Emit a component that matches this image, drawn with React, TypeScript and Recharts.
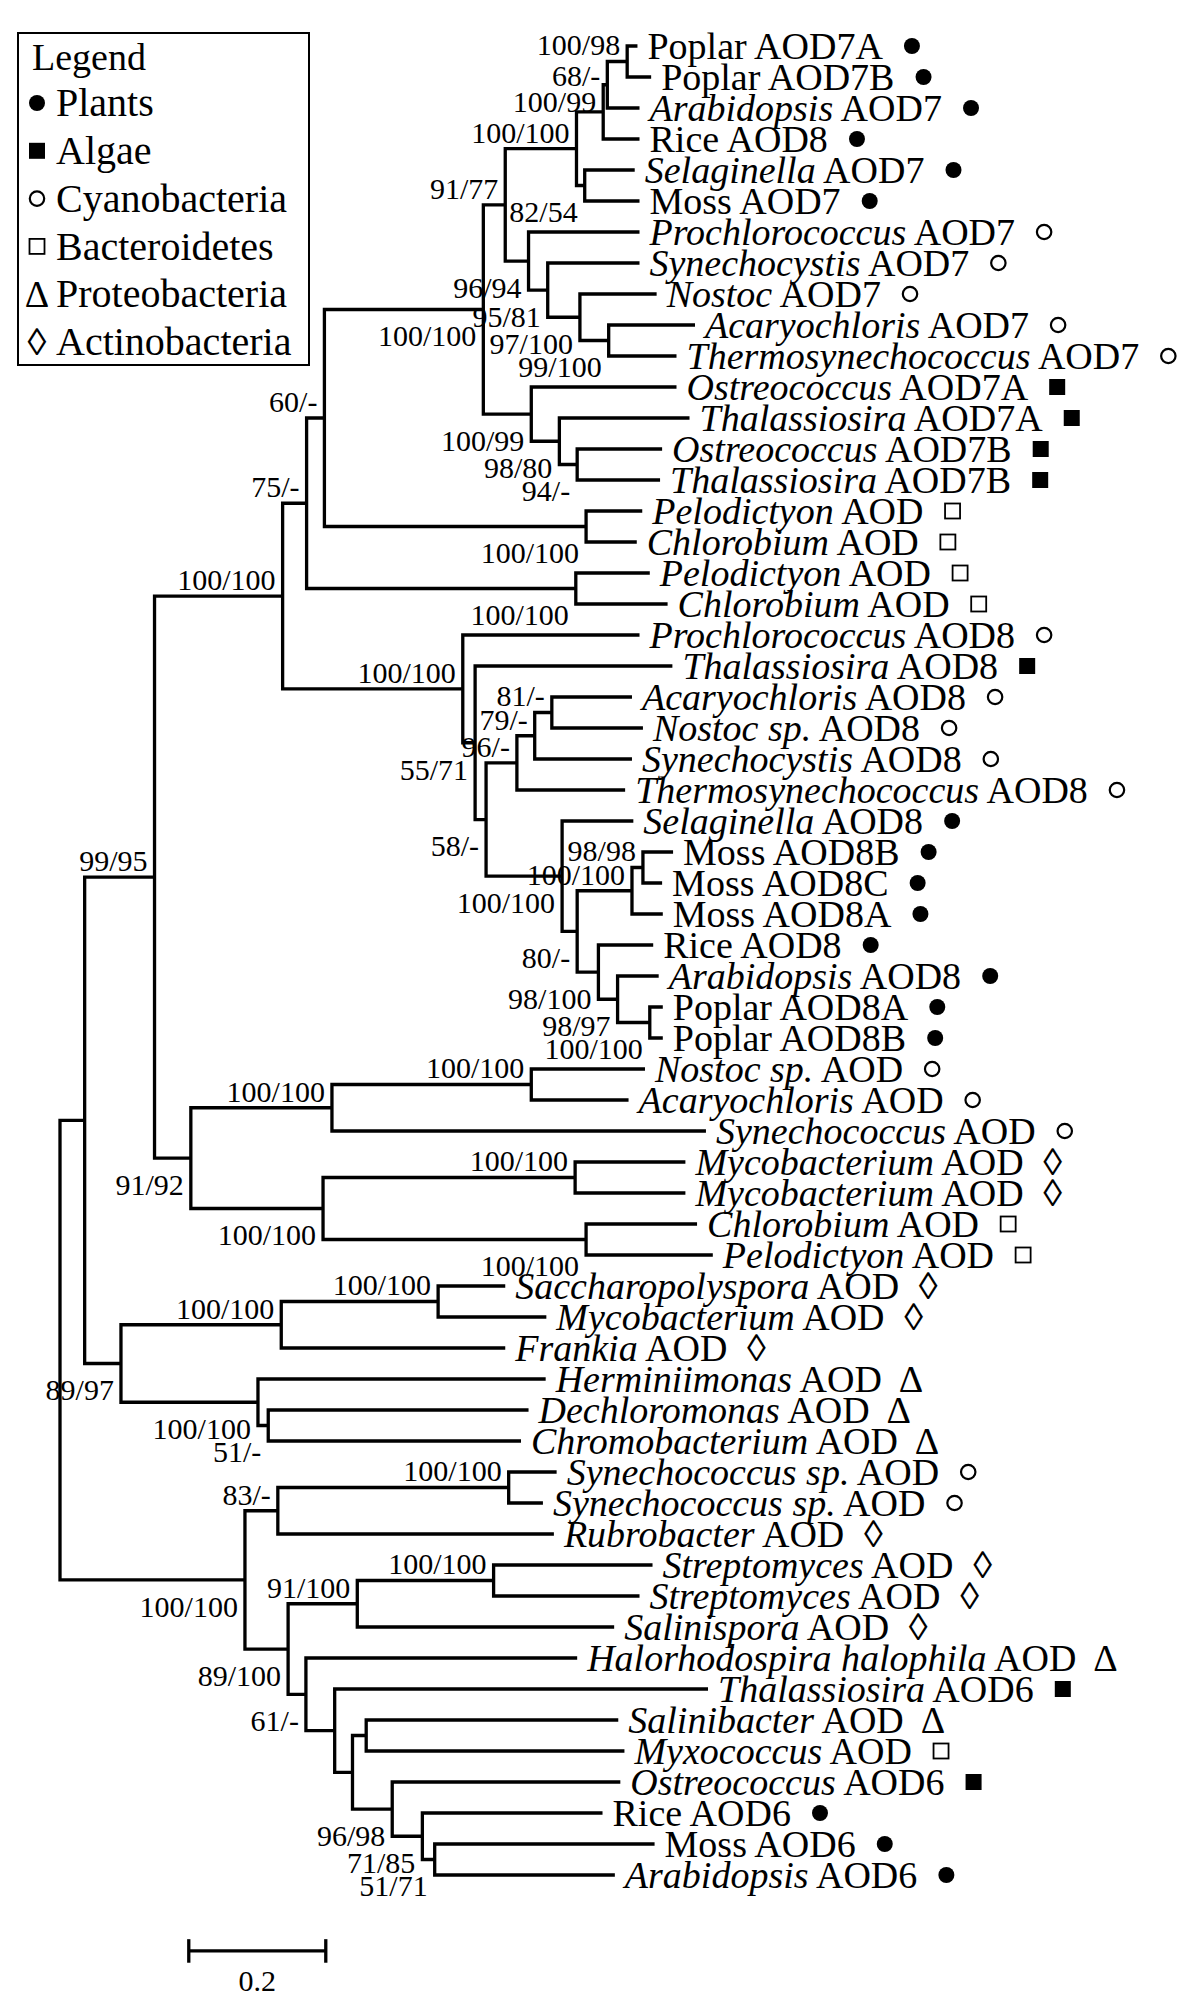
import React from 'react';
import { ScatterChart, Scatter, XAxis, YAxis, Legend } from 'recharts';

// ---------- DATA ----------
// leaves: [italic part, roman part, group, parent node, branch length]
const leaves: [string, string, string, string, number][] = [
  ['', 'Poplar AOD7A', 'P', 'pab', 0.015],
  ['', 'Poplar AOD7B', 'P', 'pab', 0.035],
  ['Arabidopsis', ' AOD7', 'P', 'n608', 0.047],
  ['', 'Rice AOD8', 'P', 'n604', 0.053],
  ['Selaginella', ' AOD7', 'P', 'sm', 0.073],
  ['', 'Moss AOD7', 'P', 'sm', 0.080],
  ['Prochlorococcus', ' AOD7', 'C', 'n529', 0.162],
  ['Synechocystis', ' AOD7', 'C', 'n548', 0.134],
  ['Nostoc', ' AOD7', 'C', 'n580', 0.112],
  ['Acaryochloris', ' AOD7', 'C', 'n609', 0.126],
  ['Thermosynechococcus', ' AOD7', 'C', 'n609', 0.099],
  ['Ostreococcus', ' AOD7A', 'A', 'alg', 0.212],
  ['Thalassiosira', ' AOD7A', 'A', 'n560', 0.190],
  ['Ostreococcus', ' AOD7B', 'A', 'n578', 0.124],
  ['Thalassiosira', ' AOD7B', 'A', 'n578', 0.121],
  ['Pelodictyon', ' AOD', 'B', 'pc1', 0.082],
  ['Chlorobium', ' AOD', 'B', 'pc1', 0.074],
  ['Pelodictyon', ' AOD', 'B', 'pc2', 0.108],
  ['Chlorobium', ' AOD', 'B', 'pc2', 0.134],
  ['Prochlorococcus', ' AOD8', 'C', 'n463', 0.258],
  ['Thalassiosira', ' AOD8', 'A', 'n475', 0.288],
  ['Acaryochloris', ' AOD8', 'C', 'n552', 0.117],
  ['Nostoc sp.', ' AOD8', 'C', 'n552', 0.133],
  ['Synechocystis', ' AOD8', 'C', 'n535', 0.142],
  ['Thermosynechococcus', ' AOD8', 'C', 'n517', 0.158],
  ['Selaginella', ' AOD8', 'P', 'n562', 0.104],
  ['', 'Moss AOD8B', 'P', 'n643', 0.044],
  ['', 'Moss AOD8C', 'P', 'n643', 0.028],
  ['', 'Moss AOD8A', 'P', 'n632', 0.045],
  ['', 'Rice AOD8', 'P', 'n598', 0.080],
  ['Arabidopsis', ' AOD8', 'P', 'n617', 0.060],
  ['', 'Poplar AOD8A', 'P', 'n649', 0.019],
  ['', 'Poplar AOD8B', 'P', 'n649', 0.019],
  ['Nostoc sp.', ' AOD', 'C', 'n531', 0.166],
  ['Acaryochloris', ' AOD', 'C', 'n531', 0.142],
  ['Synechococcus', ' AOD', 'C', 'n332', 0.546],
  ['Mycobacterium', ' AOD', 'X', 'n575', 0.161],
  ['Mycobacterium', ' AOD', 'X', 'n575', 0.161],
  ['Chlorobium', ' AOD', 'B', 'n586', 0.162],
  ['Pelodictyon', ' AOD', 'B', 'n586', 0.185],
  ['Saccharopolyspora', ' AOD', 'X', 'n438', 0.098],
  ['Mycobacterium', ' AOD', 'X', 'n438', 0.158],
  ['Frankia', ' AOD', 'X', 'n281', 0.327],
  ['Herminiimonas', ' AOD', 'T', 'n258', 0.420],
  ['Dechloromonas', ' AOD', 'T', 'n268', 0.380],
  ['Chromobacterium', ' AOD', 'T', 'n268', 0.369],
  ['Synechococcus sp.', ' AOD', 'C', 'n509', 0.070],
  ['Synechococcus sp.', ' AOD', 'C', 'n509', 0.050],
  ['Rubrobacter', ' AOD', 'X', 'n278', 0.403],
  ['Streptomyces', ' AOD', 'X', 'n493', 0.232],
  ['Streptomyces', ' AOD', 'X', 'n493', 0.213],
  ['Salinispora', ' AOD', 'X', 'n357', 0.375],
  ['Halorhodospira halophila', ' AOD', 'T', 'n306', 0.396],
  ['Thalassiosira', ' AOD6', 'A', 'n335', 0.545],
  ['Salinibacter', ' AOD', 'T', 'n367', 0.368],
  ['Myxococcus', ' AOD', 'B', 'n367', 0.377],
  ['Ostreococcus', ' AOD6', 'A', 'n393', 0.333],
  ['', 'Rice AOD6', 'P', 'n423', 0.263],
  ['', 'Moss AOD6', 'P', 'n435', 0.321],
  ['Arabidopsis', ' AOD6', 'P', 'n435', 0.263],
];

// internal nodes: [id, parent, branch length, bootstrap support]
const internalNodes: [string, string, number, string][] = [
  ['root', '', 0, ''],
  ['n85', 'root', 0.036, ''],
  ['n245', 'root', 0.270, '100/100'],
  ['n155', 'n85', 0.102, '99/95'],
  ['n121', 'n85', 0.053, '89/97'],
  ['n283', 'n155', 0.187, '100/100'],
  ['n191', 'n155', 0.053, '91/92'],
  ['n307', 'n283', 0.035, '75/-'],
  ['n463', 'n283', 0.263, '100/100'],
  ['n325', 'n307', 0.026, '60/-'],
  ['pc2', 'n307', 0.393, '100/100'],
  ['n484', 'n325', 0.232, '100/100'],
  ['pc1', 'n325', 0.382, '100/100'],
  ['n506', 'n484', 0.032, '91/77'],
  ['alg', 'n484', 0.070, '100/99'],
  ['n577', 'n506', 0.104, '100/100'],
  ['n529', 'n506', 0.034, '96/94'],
  ['n604', 'n577', 0.039, '100/99'],
  ['sm', 'n577', 0.012, '82/54'],
  ['n608', 'n604', 0.006, '68/-'],
  ['pab', 'n608', 0.029, '100/98'],
  ['n548', 'n529', 0.028, '95/81'],
  ['n580', 'n548', 0.047, '97/100'],
  ['n609', 'n580', 0.042, '99/100'],
  ['n560', 'alg', 0.041, '98/80'],
  ['n578', 'n560', 0.026, '94/-'],
  ['n475', 'n463', 0.018, '55/71'],
  ['n486', 'n475', 0.016, '58/-'],
  ['n517', 'n486', 0.045, '96/-'],
  ['n535', 'n517', 0.026, '79/-'],
  ['n552', 'n535', 0.025, '81/-'],
  ['n562', 'n486', 0.111, '100/100'],
  ['n577b', 'n562', 0.022, '80/-'],
  ['n632', 'n577b', 0.080, '100/100'],
  ['n643', 'n632', 0.016, '98/98'],
  ['n598', 'n577b', 0.031, '98/100'],
  ['n617', 'n598', 0.028, '98/97'],
  ['n649', 'n617', 0.047, '100/100'],
  ['n332', 'n191', 0.206, '100/100'],
  ['n531', 'n332', 0.291, '100/100'],
  ['n323', 'n191', 0.193, '100/100'],
  ['n575', 'n323', 0.368, '100/100'],
  ['n586', 'n323', 0.384, '100/100'],
  ['n281', 'n121', 0.234, '100/100'],
  ['n438', 'n281', 0.229, '100/100'],
  ['n258', 'n121', 0.200, '100/100'],
  ['n268', 'n258', 0.015, '51/-'],
  ['n278', 'n245', 0.048, '83/-'],
  ['n509', 'n278', 0.337, '100/100'],
  ['n288', 'n245', 0.063, '89/100'],
  ['n357', 'n288', 0.101, '91/100'],
  ['n493', 'n357', 0.199, '100/100'],
  ['n306', 'n288', 0.026, '61/-'],
  ['n335', 'n306', 0.042, ''],
  ['n353', 'n335', 0.026, ''],
  ['n367', 'n353', 0.020, ''],
  ['n393', 'n353', 0.058, '96/98'],
  ['n423', 'n393', 0.044, '71/85'],
  ['n435', 'n423', 0.018, '51/71'],
];

const legendTitle = 'Legend';
const legendGroups = ['P', 'A', 'C', 'B', 'T', 'X'];
const legendLabels = ['Plants', 'Algae', 'Cyanobacteria', 'Bacteroidetes', 'Proteobacteria', 'Actinobacteria'];

const scaleBarLength = 0.2;
const scaleBarLabel = '0.2';

// ---------- LAYOUT (not data) ----------
const W = 1200;
const H = 2000;
const PX_PER_UNIT = 685;
const ROOT_PX = 60;
const ROW_PX = 31;
const FIRST_ROW_PX = 46;
const X_DOMAIN: [number, number] = [-ROOT_PX / PX_PER_UNIT, (W - ROOT_PX) / PX_PER_UNIT];
const Y_DOMAIN: [number, number] = [-FIRST_ROW_PX / ROW_PX, (H - FIRST_ROW_PX) / ROW_PX];
const SCALE_BAR_X = 0.188;
const SCALE_BAR_ROW = 61.45;
const supportBelow = new Set([
  'sm', 'n529', 'n548', 'n580', 'n609', 'n484', 'alg', 'n560', 'n578', 'pc1', 'pc2', 'n191', 'n323', 'n586',
  'n121', 'n258', 'n268', 'n245', 'n288', 'n306', 'n393', 'n423', 'n435', 'n475', 'n486', 'n562', 'n577b',
  'n598', 'n617', 'n649',
]);
const supportDyOverride: Record<string, number> = { n608: -9, n604: -10 };

const FONT = '"Liberation Serif", "Times New Roman", serif';
const LEAF_SIZE = 38;
const LEGEND_SIZE = 40;
const SUPPORT_SIZE = 30;
const STROKE = 3.3;
const SYMBOL_GAP = 27;

// ---------- TREE GEOMETRY ----------
type TNode = { id: string; x: number; y: number; children: TNode[]; support: string; leaf?: any };
function buildTree() {
  const map: Record<string, TNode> = {};
  const parentOf: Record<string, string> = {};
  const lenOf: Record<string, number> = {};
  internalNodes.forEach(([id, parent, len, support]) => {
    map[id] = { id, x: 0, y: 0, children: [], support };
    parentOf[id] = parent;
    lenOf[id] = len;
  });
  internalNodes.forEach(([id, parent]) => { if (parent) map[parent].children.push(map[id]); });
  const leafNodes: TNode[] = leaves.map(([italic, roman, group, parent, len], i) => {
    const n: TNode = { id: 'leaf' + i, x: 0, y: i, children: [], support: '', leaf: { italic, roman, group } };
    parentOf[n.id] = parent;
    lenOf[n.id] = len;
    map[n.id] = n;
    map[parent].children.push(n);
    return n;
  });
  const depth = (id: string): number => (parentOf[id] ? depth(parentOf[id]) + lenOf[id] : 0);
  Object.values(map).forEach((n) => { n.x = depth(n.id); });
  const setY = (n: TNode): number => {
    if (n.children.length === 0) return n.y;
    const ys = n.children.map(setY);
    n.y = (Math.min(...ys) + Math.max(...ys)) / 2;
    return n.y;
  };
  setY(map.root);
  return { map, leafNodes };
}
const { map: treeMap, leafNodes } = buildTree();
const internalList = internalNodes.map(([id]) => treeMap[id]);

function elbowData(n: TNode) {
  const sorted = [...n.children].sort((a, b) => a.y - b.y);
  const first = sorted[0];
  const last = sorted[sorted.length - 1];
  return [
    { x: first.x, y: first.y },
    { x: n.x, y: first.y },
    { x: n.x, y: last.y },
    { x: last.x, y: last.y },
  ];
}

// ---------- TEXT MEASURE ----------
let ctx: CanvasRenderingContext2D | null = null;
function measure(text: string, italic: boolean, size: number) {
  if (!text) return 0;
  if (!ctx) ctx = document.createElement('canvas').getContext('2d');
  if (!ctx) return text.length * size * 0.5;
  ctx.font = `${italic ? 'italic ' : ''}${size}px "Liberation Serif"`;
  return ctx.measureText(text).width;
}

function GroupSymbol({ group, cx, cy, size }: { group: string; cx: number; cy: number; size: number }) {
  switch (group) {
    case 'P':
      return <circle cx={cx} cy={cy} r={8} fill="#000" />;
    case 'A':
      return <rect x={cx - 8} y={cy - 8} width={16} height={16} fill="#000" />;
    case 'C':
      return <circle cx={cx} cy={cy} r={7.2} fill="none" stroke="#000" strokeWidth={2.2} />;
    case 'B':
      return <rect x={cx - 7.5} y={cy - 7.5} width={15} height={15} fill="none" stroke="#000" strokeWidth={1.8} />;
    case 'T':
      return (
        <text x={cx} y={cy + size * 0.33} textAnchor="middle" fontFamily={FONT} fontSize={size} fill="#000">
          {'\u0394'}
        </text>
      );
    default:
      return (
        <text x={cx} y={cy + size * 0.33} textAnchor="middle" fontFamily={FONT} fontSize={size} fill="#000">
          {'\u25CA'}
        </text>
      );
  }
}

const NoShape = () => <g />;

const LeafLabel = (props: any) => {
  const { cx, cy, payload } = props;
  const { italic, roman, group } = payload.leaf;
  const x0 = cx + 10;
  const w = measure(italic, true, LEAF_SIZE) + measure(roman, false, LEAF_SIZE);
  return (
    <g>
      <text x={x0} y={cy + LEAF_SIZE * 0.33} fontFamily={FONT} fontSize={LEAF_SIZE} fill="#000" style={{ whiteSpace: 'pre' }}>
        {italic ? <tspan fontStyle="italic">{italic}</tspan> : null}
        <tspan>{roman}</tspan>
      </text>
      <GroupSymbol group={group} cx={x0 + w + SYMBOL_GAP} cy={cy} size={LEAF_SIZE} />
    </g>
  );
};

const SupportLabel = (props: any) => {
  const { cx, cy, payload } = props;
  const below = supportBelow.has(payload.id);
  const dy = supportDyOverride[payload.id] ?? (below ? 27 : -16);
  const center = cy + dy;
  return (
    <text x={cx - 7} y={center + SUPPORT_SIZE * 0.33} textAnchor="end" fontFamily={FONT} fontSize={SUPPORT_SIZE} fill="#000">
      {payload.support}
    </text>
  );
};

const ScaleLabel = (props: any) => {
  const { cx, cy } = props;
  return (
    <text x={cx} y={cy + 30 + SUPPORT_SIZE * 0.33} textAnchor="middle" fontFamily={FONT} fontSize={SUPPORT_SIZE} fill="#000">
      {scaleBarLabel}
    </text>
  );
};

const LegendBox = () => (
  <svg width={293} height={334} style={{ display: 'block' }}>
    <rect x={1} y={1} width={291} height={332} fill="#fff" stroke="#000" strokeWidth={2} />
    <text x={15} y={25 + LEAF_SIZE * 0.33} fontFamily={FONT} fontSize={LEAF_SIZE} fill="#000">{legendTitle}</text>
    {legendLabels.map((lab, i) => {
      const cy = 71 + i * 47.8;
      return (
        <g key={lab}>
          <GroupSymbol group={legendGroups[i]} cx={20} cy={cy} size={LEAF_SIZE} />
          <text x={39} y={cy + LEGEND_SIZE * 0.33} fontFamily={FONT} fontSize={LEGEND_SIZE} fill="#000">{lab}</text>
        </g>
      );
    })}
  </svg>
);

export default function App() {
  const supportData = internalList.filter((n) => n.support).map((n) => ({ x: n.x, y: n.y, id: n.id, support: n.support }));
  const leafData = leafNodes.map((n) => ({ x: n.x, y: n.y, leaf: n.leaf }));
  const tick = 0.38;
  return (
    <div style={{ position: 'absolute', left: 0, top: 0, width: W, height: H, background: '#fff' }}>
      <ScatterChart width={W} height={H} margin={{ top: 0, right: 0, bottom: 0, left: 0 }}>
        <XAxis type="number" dataKey="x" domain={X_DOMAIN} allowDataOverflow hide />
        <YAxis type="number" dataKey="y" domain={Y_DOMAIN} allowDataOverflow reversed hide />
        <Legend
          layout="horizontal"
          verticalAlign="middle"
          align="center"
          content={() => <LegendBox />}
          wrapperStyle={{ left: 17, top: 32, width: 293, height: 334, margin: 0, padding: 0 }}
        />
        {internalList.map((n) => (
          <Scatter
            key={n.id}
            data={elbowData(n)}
            line={{ stroke: '#000', strokeWidth: STROKE }}
            shape={NoShape}
            legendType="none"
            isAnimationActive={false}
          />
        ))}
        <Scatter
          data={[{ x: SCALE_BAR_X, y: SCALE_BAR_ROW }, { x: SCALE_BAR_X + scaleBarLength, y: SCALE_BAR_ROW }]}
          line={{ stroke: '#000', strokeWidth: STROKE }}
          shape={NoShape}
          legendType="none"
          isAnimationActive={false}
        />
        <Scatter
          data={[{ x: SCALE_BAR_X, y: SCALE_BAR_ROW - tick }, { x: SCALE_BAR_X, y: SCALE_BAR_ROW + tick }]}
          line={{ stroke: '#000', strokeWidth: STROKE }}
          shape={NoShape}
          legendType="none"
          isAnimationActive={false}
        />
        <Scatter
          data={[{ x: SCALE_BAR_X + scaleBarLength, y: SCALE_BAR_ROW - tick }, { x: SCALE_BAR_X + scaleBarLength, y: SCALE_BAR_ROW + tick }]}
          line={{ stroke: '#000', strokeWidth: STROKE }}
          shape={NoShape}
          legendType="none"
          isAnimationActive={false}
        />
        <Scatter
          data={[{ x: SCALE_BAR_X + scaleBarLength / 2, y: SCALE_BAR_ROW }]}
          shape={ScaleLabel}
          legendType="none"
          isAnimationActive={false}
        />
        <Scatter data={supportData} shape={SupportLabel} legendType="none" isAnimationActive={false} />
        <Scatter data={leafData} shape={LeafLabel} legendType="none" isAnimationActive={false} />
      </ScatterChart>
    </div>
  );
}
